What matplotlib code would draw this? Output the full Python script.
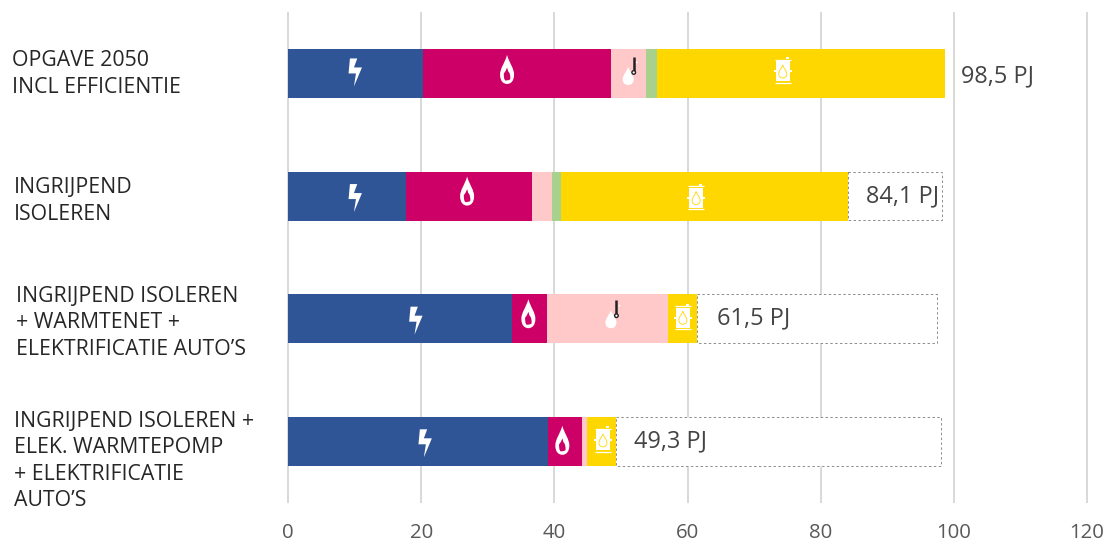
import matplotlib
matplotlib.use('Agg')
import matplotlib.pyplot as plt
from matplotlib.path import Path
from matplotlib.patches import PathPatch
from matplotlib.transforms import Affine2D

# Data
categories = ['OPGAVE 2050\nINCL EFFICIENTIE',
              'INGRIJPEND\nISOLEREN',
              'INGRIJPEND ISOLEREN\n+ WARMTENET +\nELEKTRIFICATIE AUTO’S',
              'INGRIJPEND ISOLEREN +\nELEK. WARMTEPOMP\n+ ELEKTRIFICATIE\nAUTO’S']
elektriciteit = [20.3, 17.7, 33.6, 39.0]
gas = [28.2, 18.9, 5.3, 5.2]
warmte = [5.3, 3.0, 18.1, 0.7]
groen = [1.6, 1.4, 0.0, 0.0]
olie = [43.2, 43.1, 4.5, 4.4]
rest = [0.0, 14.1, 36.0, 48.8]
totals = ['98,5 PJ', '84,1 PJ', '61,5 PJ', '49,3 PJ']
xticks = [0, 20, 40, 60, 80, 100, 120]

BLUE = '#2F5597'
MAGENTA = '#CC0066'
PINK = '#FFC9C9'
GREEN = '#A9D18E'
YELLOW = '#FFD700'
TEXT = '#444444'

W, H = 1109, 541
plt.rcParams['font.family'] = ['Open Sans', 'DejaVu Sans']

fig = plt.figure(figsize=(W / 100, H / 100), dpi=100)
ax = fig.add_axes([288 / W, 1 - 502 / H, 799 / W, 489 / H])

rows = list(range(len(categories)))
left = [0.0] * 4
for vals, col in [(elektriciteit, BLUE), (gas, MAGENTA), (warmte, PINK), (groen, GREEN), (olie, YELLOW)]:
    ax.barh(rows, vals, left=left, height=0.4, color=col, zorder=3)
    left = [a + b for a, b in zip(left, vals)]

# dotted remainder up to the 2050 task, first row has none
ax.barh(rows[1:], rest[1:], left=left[1:], height=0.395, facecolor='white', edgecolor='#8C8C8C',
        linestyle=(0, (2.5, 2.5)), linewidth=0.7, zorder=2)

ax.set_xlim(0, 120)
ax.set_ylim(3.495, -0.493)
ax.set_xticks(xticks)
ax.set_yticks([])
ax.tick_params(axis='x', length=0, pad=15, labelsize=14.7, labelcolor='#595959')
ax.grid(axis='x', color='#D9D9D9', linewidth=1.44, zorder=1, clip_on=False)
ax.set_axisbelow(True)
for s in ax.spines.values():
    s.set_visible(False)


# Icons, path units are pixels around the icon centre (y down)
def drop(cx, cy, w, h):
    top = cy - h / 2
    bot = cy + h / 2
    r = w / 2
    verts = [(cx, top),
             (cx + r * 0.35, top + h * 0.3), (cx + r, top + h * 0.45), (cx + r, top + h * 0.68),
             (cx + r, bot - h * 0.1), (cx + r * 0.55, bot), (cx, bot),
             (cx - r * 0.55, bot), (cx - r, bot - h * 0.1), (cx - r, top + h * 0.68),
             (cx - r, top + h * 0.45), (cx - r * 0.35, top + h * 0.3), (cx, top),
             (cx, top)]
    codes = [Path.MOVETO] + [Path.CURVE4] * 12 + [Path.CLOSEPOLY]
    return Path(verts, codes)


def flip(p):
    return Path(p.vertices[::-1], [Path.MOVETO] + [Path.CURVE4] * 12 + [Path.CLOSEPOLY])


def draw_path(path, x, row, dy, color, z=5, fill=True, lw=0):
    # x and row are data, dy is a nudge in pixels
    px, py = ax.transData.transform((x, row))
    tr = Affine2D().scale(1, -1).translate(px, py - dy)
    patch = PathPatch(path, transform=tr, facecolor=color if fill else 'none',
                      edgecolor=color if not fill else 'none', linewidth=lw, zorder=z, clip_on=False)
    fig.add_artist(patch)


bolt = Path([(-5.3, -14), (2, -14), (-1.3, -5), (6.7, -5), (-1.3, 14), (0.7, 1), (-6.7, 1), (-5.3, -14)], closed=True)
flame = Path.make_compound_path(drop(0, 0, 14, 29), flip(drop(0, 4.5, 6.5, 13)))


def barrel_icon(x, row, dy):
    rect = Path([(-7, -10), (7, -10), (7, 10), (-7, 10), (-7, -10)], closed=True)
    draw_path(rect, x, row, dy, 'white')
    for yy in (-11.6, 11.3):
        draw_path(Path([(-8, yy), (8, yy)]), x, row, dy, 'white', fill=False, lw=0.9)
    draw_path(Path([(3, -14), (6, -14), (6, -12), (3, -12), (3, -14)], closed=True), x, row, dy, 'white')
    for sx in (-8, 8):
        draw_path(Path([(sx - 1, -1), (sx + 1, -1), (sx + 1, 1), (sx - 1, 1), (sx - 1, -1)], closed=True), x, row, dy, 'white')
    draw_path(drop(0, 0, 8, 13), x, row, dy, YELLOW, z=6, fill=False, lw=0.6)


def heat_icon(x, row, dy):
    draw_path(drop(-2, 3.5, 11, 18), x, row, dy, 'white')
    draw_path(Path([(3.5, -15.5), (3.5, -1)]), x, row, dy, '#222222', fill=False, lw=1.8)
    draw_path(Path.circle((3.5, 0), 2.5), x, row, dy, '#222222', z=6)
    draw_path(Path.circle((3.5, 0), 1.1), x, row, dy, 'white', z=7)
    draw_path(Path.circle((6.5, -10), 0.9), x, row, dy, 'white', z=6)


# icon spots: (value on x axis, row, pixel nudge)
bolt_spots = [(10.1, 0, -1), (10.1, 1, 2), (19.2, 2, 2), (20.6, 3, 2)]
flame_spots = [(32.9, 0, -4), (26.9, 1, -5), (36.1, 2, -5), (41.2, 3, -1)]
barrel_spots = [(74.3, 0, -2), (61.3, 1, 2), (59.3, 2, -1), (47.3, 3, -1)]
heat_spots = [(51.4, 0, -1), (48.8, 2, -3)]

for x, r, d in bolt_spots:
    draw_path(bolt, x, r, d, 'white')
for x, r, d in flame_spots:
    draw_path(flame, x, r, d, 'white')
for x, r, d in barrel_spots:
    barrel_icon(x, r, d)
for x, r, d in heat_spots:
    heat_icon(x, r, d)

# total labels
label_x = [101.1, 86.8, 64.4, 52.0]
label_nudge = [0.02, 0.0, 0.0, 0.0]
for r, (xl, t) in enumerate(zip(label_x, totals)):
    ax.text(xl, r + label_nudge[r], t, va='center', ha='left', fontsize=16.9, color=TEXT, zorder=6)

# category labels
cat_x = [12, 14, 16, 14]
cat_y = [74, 201, 323, 461]
for t, px, py in zip(categories, cat_x, cat_y):
    fig.text(px / W, 1 - py / H, t, ha='left', va='center', fontsize=15.3, color='#262626', linespacing=1.32)

fig.savefig('out.png', dpi=100)
